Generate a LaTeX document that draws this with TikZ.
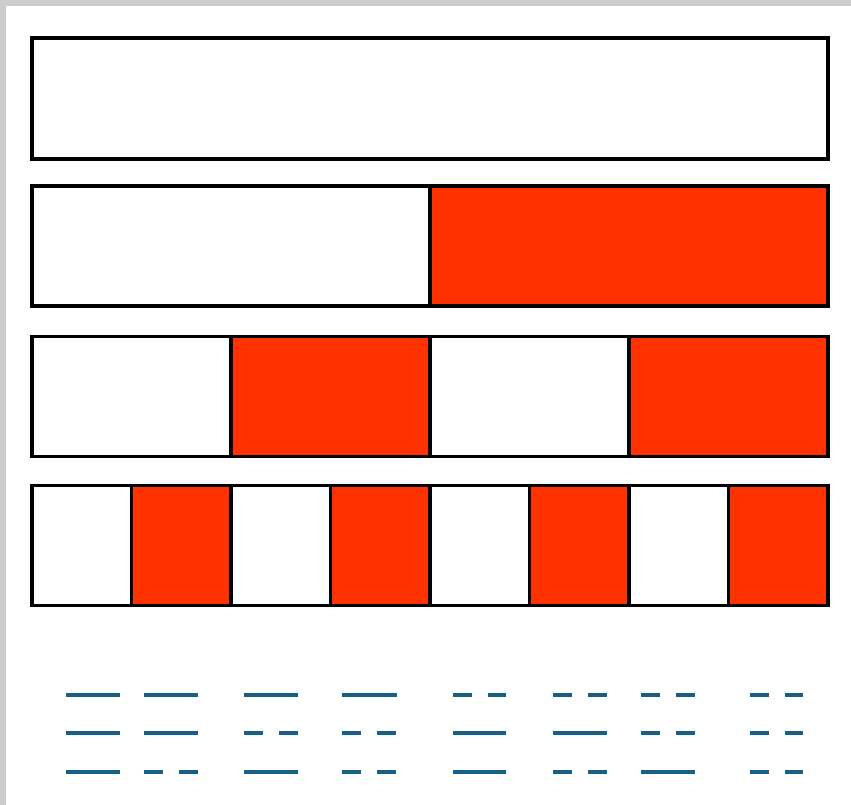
\documentclass[tikz,border=0pt]{standalone}
\usepackage{xcolor}
\definecolor{barred}{RGB}{255,51,0}
\definecolor{dashblue}{RGB}{22,96,136}
\definecolor{framegray}{RGB}{204,204,204}
\usepackage{tikz}
\usetikzlibrary{positioning}

\begin{document}
\begin{tikzpicture}[
  x=1pt,y=1pt,
  cell/.style={draw,line width=3.2pt,minimum height=120pt,inner sep=0pt,fill=white},
  redcell/.style={cell,fill=barred},
  solidline/.style={dashblue,line width=3.4pt},
  dashline/.style={solidline,dash pattern=on 19pt off 16pt},
]
  % Frame
  \fill[framegray] (0,0) rectangle (851,805);
  \fill[white] (6,0) rectangle (851,799);
  \useasboundingbox (0,0) rectangle (851,805);

  % Row 1: whole bar
  \node[cell,minimum width=796pt,minimum height=121pt] (w1) at (430,706.5) {};

  % Row 2: halves
  \node[cell,minimum width=398pt] (h1) at (231,559) {};
  \node[redcell,minimum width=398pt] (h2) at (629,559) {};

  % Row 3: quarters
  \node[cell,minimum width=199pt] (q1) at (131.5,408.5) {};
  \node[redcell,minimum width=199pt] (q2) at (330.5,408.5) {};
  \node[cell,minimum width=199pt] (q3) at (529.5,408.5) {};
  \node[redcell,minimum width=199pt] (q4) at (728.5,408.5) {};

  % Row 4: eighths
  \node[cell,minimum width=99.5pt] (e1) at (81.75,259.5) {};
  \node[redcell,minimum width=99.5pt] (e2) at (181.25,259.5) {};
  \node[cell,minimum width=99.5pt] (e3) at (280.75,259.5) {};
  \node[redcell,minimum width=99.5pt] (e4) at (380.25,259.5) {};
  \node[cell,minimum width=99.5pt] (e5) at (479.75,259.5) {};
  \node[redcell,minimum width=99.5pt] (e6) at (579.25,259.5) {};
  \node[cell,minimum width=99.5pt] (e7) at (678.75,259.5) {};
  \node[redcell,minimum width=99.5pt] (e8) at (778.25,259.5) {};

  % Code lines, row 1
  \draw[solidline] (66,110) -- (120,110);
  \draw[solidline] (144,110) -- (198,110);
  \draw[solidline] (244,110) -- (298,110);
  \draw[solidline] (342,110) -- (397,110);
  \draw[dashline] (453,110) -- (506,110);
  \draw[dashline] (553,110) -- (607,110);
  \draw[dashline] (641,110) -- (695,110);
  \draw[dashline] (750,110) -- (803,110);

  % Code lines, row 2
  \draw[solidline] (66,72) -- (120,72);
  \draw[solidline] (144,72) -- (198,72);
  \draw[dashline] (244,72) -- (298,72);
  \draw[dashline] (342,72) -- (397,72);
  \draw[solidline] (453,72) -- (506,72);
  \draw[solidline] (553,72) -- (607,72);
  \draw[dashline] (641,72) -- (695,72);
  \draw[dashline] (750,72) -- (803,72);

  % Code lines, row 3
  \draw[solidline] (66,33) -- (120,33);
  \draw[dashline] (144,33) -- (198,33);
  \draw[solidline] (244,33) -- (298,33);
  \draw[dashline] (342,33) -- (397,33);
  \draw[solidline] (453,33) -- (506,33);
  \draw[dashline] (553,33) -- (607,33);
  \draw[solidline] (641,33) -- (695,33);
  \draw[dashline] (750,33) -- (803,33);
\end{tikzpicture}
\end{document}
